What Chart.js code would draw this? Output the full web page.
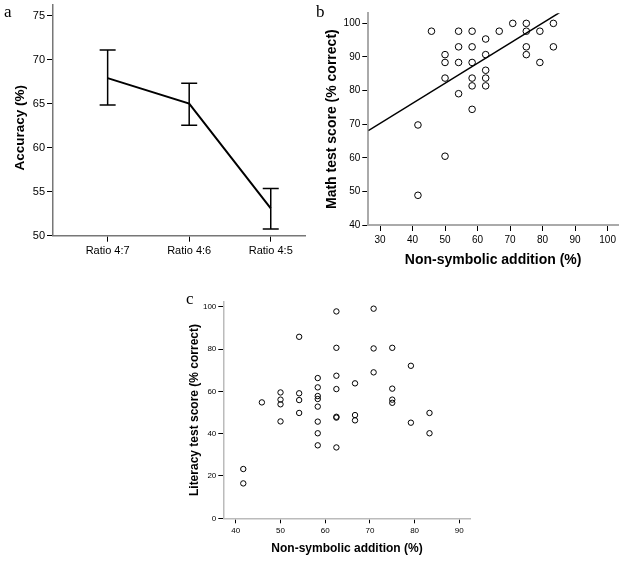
<!DOCTYPE html>
<html>
<head>
<meta charset="utf-8">
<script src="https://cdn.jsdelivr.net/npm/chart.js@4.4.1/dist/chart.umd.min.js"></script>
<style>
body { margin: 0; background: #fff; width: 624px; height: 561px; position: relative; overflow: hidden; }
canvas { position: absolute; }
.lbl { position: absolute; font-family: "Liberation Serif", "DejaVu Serif", serif; font-size: 17px; line-height: 1; color: #000; }
</style>
</head>
<body>
<canvas id="chartA" width="310" height="280" style="left:0;top:0;width:310px;height:280px"></canvas>
<canvas id="chartB" width="314" height="280" style="left:310px;top:0;width:314px;height:280px"></canvas>
<canvas id="chartC" width="330" height="281" style="left:150px;top:280px;width:330px;height:281px"></canvas>
<div class="lbl" style="left:4px;top:3px">a</div>
<div class="lbl" style="left:316px;top:3px">b</div>
<div class="lbl" style="left:186px;top:290px">c</div>
<script>
Chart.defaults.font.family = '"Liberation Sans", Arial, sans-serif';
Chart.defaults.color = '#000';

// panel a: accuracy by ratio
var ratioLabels = ['Ratio 4:7', 'Ratio 4:6', 'Ratio 4:5'];
var accuracy = [67.9, 65.0, 53.1];
var accHigh = [71.1, 67.3, 55.35];
var accLow = [64.85, 62.55, 50.75];
var accTicks = [50, 55, 60, 65, 70, 75];

// panel b: math test score vs non-symbolic addition
var mathX = [45.83, 50, 50, 50, 50, 54.17, 54.17, 54.17, 54.17,
  58.33, 58.33, 58.33, 58.33, 58.33, 58.33,
  62.5, 62.5, 62.5, 62.5, 62.5, 66.67, 70.83,
  75, 75, 75, 75, 79.17, 79.17, 83.33, 83.33, 41.67, 41.67];
var mathY = [97.67, 90.70, 88.37, 83.72, 60.47, 97.67, 93.02, 88.37, 79.07,
  97.67, 93.02, 88.37, 83.72, 81.40, 74.42,
  95.35, 90.70, 86.05, 83.72, 81.40, 97.67, 100,
  100, 97.67, 93.02, 90.70, 97.67, 88.37, 100, 93.02, 69.77, 48.84];
var fitX = [26.4, 85.2];
var fitY = [68.1, 103.2];
var mathXTicks = [30, 40, 50, 60, 70, 80, 90, 100];
var mathYTicks = [40, 50, 60, 70, 80, 90, 100];

// panel c: literacy test score vs non-symbolic addition
var litX = [41.67, 41.67, 45.83, 50, 50, 50, 50, 54.17, 54.17, 54.17, 54.17,
  58.33, 58.33, 58.33, 58.33, 58.33, 58.33, 58.33, 58.33,
  62.5, 62.5, 62.5, 62.5, 62.5, 62.5, 62.5,
  66.67, 66.67, 66.67, 70.83, 70.83, 70.83,
  75, 75, 75, 75, 79.17, 79.17, 83.33, 83.33];
var litY = [23.3, 16.5, 54.8, 59.5, 56.1, 53.9, 45.8, 85.8, 59.1, 55.9, 49.8,
  66.3, 61.9, 57.8, 56.4, 52.8, 45.7, 40.2, 34.5,
  97.8, 80.6, 67.4, 61.1, 48.0, 47.6, 33.5,
  63.8, 48.8, 46.3, 99.1, 80.3, 69.0,
  80.6, 61.3, 56.1, 54.6, 72.1, 45.2, 49.8, 40.2];
var litXTicks = [40, 50, 60, 70, 80, 90];
var litYTicks = [0, 20, 40, 60, 80, 100];

function pts(xs, ys) {
  return xs.map(function (x, i) { return { x: x, y: ys[i] }; });
}

function axis(o) {
  return {
    type: 'linear',
    position: o.pos,
    min: o.min,
    max: o.max,
    afterBuildTicks: function (s) { s.ticks = o.ticks.map(function (v) { return { value: v }; }); },
    afterFit: function (s) {
      if (o.pos === 'left') { s.width = o.size; s.paddingTop = 0; s.paddingBottom = 0; }
      else { s.height = o.size; s.paddingLeft = 0; s.paddingRight = 0; }
    },
    border: { display: true, color: o.border, width: o.bw },
    grid: { drawOnChartArea: false, drawTicks: true, tickLength: o.tl, color: '#000', lineWidth: 1 },
    ticks: { padding: o.tp, autoSkip: false, maxRotation: 0, font: { size: o.fs }, color: '#000',
      callback: o.cb || function (v) { return v; } },
    title: {
      display: !!o.title, text: o.title, color: '#000',
      font: { size: o.ts, weight: 'bold' },
      padding: o.pos === 'left' ? { top: o.tpad, bottom: 0 } : { top: 0, bottom: o.tpad }
    }
  };
}

var errorBars = {
  id: 'errorBars',
  afterDatasetsDraw: function (chart) {
    var ctx = chart.ctx, xs = chart.scales.x, ys = chart.scales.y;
    ctx.save();
    ctx.strokeStyle = '#000';
    ctx.lineWidth = 1.5;
    accuracy.forEach(function (v, i) {
      var px = xs.getPixelForValue(i + 1);
      var hi = ys.getPixelForValue(accHigh[i]);
      var lo = ys.getPixelForValue(accLow[i]);
      var cap = 8;
      ctx.beginPath();
      ctx.moveTo(px, hi); ctx.lineTo(px, lo);
      ctx.moveTo(px - cap, hi); ctx.lineTo(px + cap, hi);
      ctx.moveTo(px - cap, lo); ctx.lineTo(px + cap, lo);
      ctx.stroke();
    });
    ctx.restore();
  }
};

var base = {
  responsive: false,
  animation: false,
  plugins: { legend: { display: false }, tooltip: { enabled: false } }
};

new Chart(document.getElementById('chartA'), {
  type: 'line',
  data: {
    datasets: [{
      data: pts([1, 2, 3], accuracy),
      borderColor: '#000', borderWidth: 2, pointRadius: 0, tension: 0, fill: false
    }]
  },
  options: Object.assign({}, base, {
    layout: { padding: { left: 0, top: 5, right: 5, bottom: 0 } },
    scales: {
      x: axis({ pos: 'bottom', min: 0.33, max: 3.42, ticks: [1, 2, 3], size: 44.3,
        border: '#777', bw: 1.5, tl: 6, tp: 3, fs: 11,
        cb: function (v) { return ratioLabels[v - 1]; } }),
      y: axis({ pos: 'left', min: 50, max: 76.2, ticks: accTicks, size: 53,
        border: '#777', bw: 1.5, tl: 6, tp: 2, fs: 11,
        title: 'Accuracy (%)    ', ts: 13.5, tpad: 12 })
    }
  }),
  plugins: [errorBars]
});

new Chart(document.getElementById('chartB'), {
  type: 'scatter',
  data: {
    datasets: [{
      type: 'scatter',
      data: pts(mathX, mathY),
      pointRadius: 3.3, pointBorderWidth: 1, pointBorderColor: '#000',
      pointBackgroundColor: 'rgba(255,255,255,0)'
    }, {
      type: 'line',
      data: pts(fitX, fitY),
      borderColor: '#000', borderWidth: 1.5, pointRadius: 0, fill: false
    }]
  },
  options: Object.assign({}, base, {
    layout: { padding: { left: 0, top: 13.3, right: 6, bottom: 0 } },
    scales: {
      x: axis({ pos: 'bottom', min: 26.4, max: 103.2, ticks: mathXTicks, size: 55,
        border: '#aaa', bw: 2, tl: 6, tp: 3, fs: 10,
        title: 'Non-symbolic addition (%)', ts: 14, tpad: 11 }),
      y: axis({ pos: 'left', min: 40, max: 103, ticks: mathYTicks, size: 58.3,
        border: '#aaa', bw: 2, tl: 6, tp: 2, fs: 10,
        title: 'Math test score (% correct)', ts: 14, tpad: 14 })
    }
  })
});

new Chart(document.getElementById('chartC'), {
  type: 'scatter',
  data: {
    datasets: [{
      data: pts(litX, litY),
      pointRadius: 2.7, pointBorderWidth: 1, pointBorderColor: '#000',
      pointBackgroundColor: 'rgba(255,255,255,0)'
    }]
  },
  options: Object.assign({}, base, {
    layout: { padding: { left: 0, top: 21.7, right: 9.3, bottom: 0 } },
    scales: {
      x: axis({ pos: 'bottom', min: 37.2, max: 92.55, ticks: litXTicks, size: 42.7,
        border: '#bbb', bw: 1.5, tl: 5, tp: 2.5, fs: 8,
        title: 'Non-symbolic addition (%)', ts: 12, tpad: 5.5 }),
      y: axis({ pos: 'left', min: 0, max: 102.4, ticks: litYTicks, size: 73.3,
        border: '#bbb', bw: 1.5, tl: 5, tp: 2, fs: 8,
        title: 'Literacy test score (% correct)', ts: 12, tpad: 37 })
    }
  })
});
</script>
</body>
</html>
